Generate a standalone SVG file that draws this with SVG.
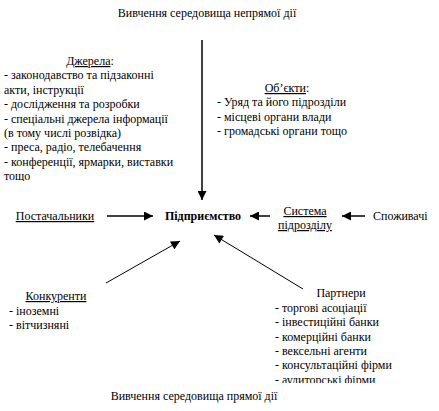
<svg xmlns="http://www.w3.org/2000/svg" width="439" height="411" viewBox="0 0 439 411">
<style>
text{font-family:'Liberation Serif','Times New Roman',serif;font-size:12px;fill:#000}
.u{text-decoration:underline}
.b{font-weight:bold}
.ln{stroke:#000;stroke-width:1;fill:none}
.thick{stroke:#000;stroke-width:1.5;fill:none}
</style>
<defs>
<marker id="ah" viewBox="0 0 10 10" refX="10" refY="5" markerWidth="10" markerHeight="9" markerUnits="userSpaceOnUse" orient="auto">
<path d="M0,0 L10,5 L0,10 Z" fill="#000"/>
</marker>
<clipPath id="c1"><rect x="0" y="0" width="200" height="181"/></clipPath>
<clipPath id="c2"><rect x="260" y="280" width="179" height="103"/></clipPath>
</defs>
<rect width="439" height="411" fill="#fff"/>
<g id="connectors">
<line class="thick" x1="202" y1="40" x2="202" y2="200" marker-end="url(#ah)"/>
<line class="thick" x1="107" y1="216" x2="153" y2="216" marker-end="url(#ah)"/>
<line class="thick" x1="270" y1="216" x2="250" y2="216" marker-end="url(#ah)"/>
<line class="thick" x1="365" y1="216" x2="342" y2="216" marker-end="url(#ah)"/>
<line class="ln" x1="106" y1="283" x2="180" y2="241" marker-end="url(#ah)"/>
<line class="ln" x1="303" y1="289" x2="214" y2="235" marker-end="url(#ah)"/>
</g>
<g id="title-top"><text x="207" y="17" text-anchor="middle">Вивчення середовища непрямої дії</text></g>
<g id="dzherela" clip-path="url(#c1)">
<text x="90" y="65" text-anchor="middle"><tspan class="u">Джерела</tspan>:</text>
<text x="4" y="79">- законодавство та підзаконні</text>
<text x="4" y="93.5">акти, інструкції</text>
<text x="4" y="108">- дослідження та розробки</text>
<text x="4" y="122.5">- спеціальні джерела інформації</text>
<text x="4" y="137">(в тому числі розвідка)</text>
<text x="4" y="151">- преса, радіо, телебачення</text>
<text x="4" y="165.5">- конференції, ярмарки, виставки</text>
<text x="4" y="180">тощо</text>
</g>
<g id="obiekty">
<text x="287" y="92" text-anchor="middle"><tspan class="u">Об’єкти</tspan>:</text>
<text x="217" y="106">- Уряд та його підрозділи</text>
<text x="217" y="120.5">- місцеві органи влади</text>
<text x="217" y="135">- громадські органи тощо</text>
</g>
<g id="postachalnyky"><text x="55" y="220" text-anchor="middle" class="u">Постачальники</text></g>
<g id="pidpryiemstvo"><text x="203" y="220" text-anchor="middle" class="b">Підприємство</text></g>
<g id="systema">
<text x="305" y="215" text-anchor="middle" class="u">Система</text>
<text x="305" y="229" text-anchor="middle" class="u">підрозділу</text>
</g>
<g id="spozhyvachi"><text x="373" y="220">Споживачі</text></g>
<g id="konkurenty">
<text x="56" y="300" text-anchor="middle" class="u">Конкуренти</text>
<text x="9" y="314.5">- іноземні</text>
<text x="9" y="329">- вітчизняні</text>
</g>
<g id="partnery" clip-path="url(#c2)">
<text x="341" y="297" text-anchor="middle">Партнери</text>
<text x="275" y="311.5">- торгові асоціації</text>
<text x="275" y="326">- інвестиційні банки</text>
<text x="275" y="340.5">- комерційні банки</text>
<text x="275" y="355">- вексельні агенти</text>
<text x="275" y="369">- консультаційні фірми</text>
<text x="275" y="383.5">- аудиторські фірми</text>
</g>
<g id="title-bottom"><text x="194" y="400" text-anchor="middle">Вивчення середовища прямої дії</text></g>
</svg>
